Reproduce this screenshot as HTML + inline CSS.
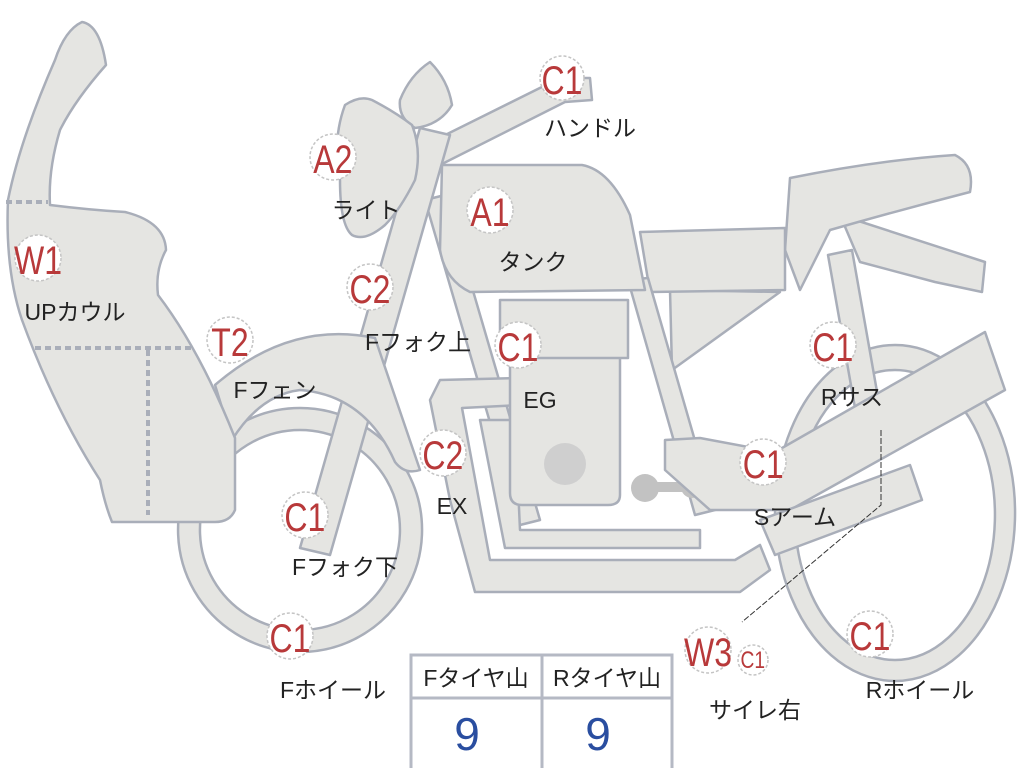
<!DOCTYPE html>
<html><head><meta charset="utf-8"><style>
body{margin:0;background:#fff;}
svg{display:block;}
.p{fill:#e5e5e2;stroke:#a9aeb9;stroke-width:2.5;stroke-linejoin:round;}
.c{fill:#fff;stroke:#c4c4c4;stroke-width:1.5;stroke-dasharray:3 2;}
.r{fill:#b8393a;font-family:"Liberation Sans",sans-serif;font-size:40px;text-anchor:middle;}
.k{fill:#222;font-family:"Liberation Sans","Noto Sans CJK JP",sans-serif;font-size:23px;text-anchor:middle;}
</style></head><body>
<svg width="1024" height="768" viewBox="0 0 1024 768">
<path class="p" fill-rule="evenodd" d="M300,408a122,122 0 1,0 0.1,0Z M300,430a100,100 0 1,1 -0.1,0Z"/>
<path class="p" fill-rule="evenodd" d="M895,345a120,168 0 1,0 0.1,0Z M895,370a100,145 0 1,1 -0.1,0Z"/>
<path class="p" d="M840,215 L985,262 L982,292 L935,282 L860,262Z"/>
<path class="p" d="M790,178 Q880,160 955,155 Q975,165 970,192 Q900,210 830,230 L800,290 L785,250Z"/>
<path class="p" d="M670,290 L780,292 L672,370Z"/>
<path class="p" d="M640,232 L785,228 L785,290 L650,292Z"/>
<path class="p" d="M828,255 L852,250 L882,420 L858,425Z"/>
<path class="p" d="M425,200 L445,195 L540,520 L520,525Z"/>
<path class="p" d="M628,280 L648,278 L715,510 L695,515Z"/>
<path class="p" d="M440,380 L520,378 L520,405 L462,408 L490,560 L735,560 L760,545 L770,570 L740,592 L475,592 L450,500 L430,400Z"/>
<path class="p" d="M480,420 L515,420 L520,530 L700,530 L700,548 L505,548Z"/>
<path class="p" d="M510,355 L620,355 L620,495 Q620,505 608,505 L522,505 Q510,505 510,493Z"/>
<rect class="p" x="500" y="300" width="128" height="58"/>
<circle cx="565" cy="464" r="21" fill="#cfcfcf"/>
<path d="M640,487 L690,487" stroke="#c2c2c2" stroke-width="10" stroke-linecap="round"/>
<circle cx="645" cy="488" r="14" fill="#c2c2c2"/><circle cx="692" cy="487" r="11" fill="#c2c2c2"/>
<path class="p" d="M665,440 L700,438 L775,452 L985,332 L1005,390 L790,510 L710,510 L665,470Z"/>
<path class="p" d="M760,520 L910,465 L922,500 L775,555Z"/>
<path class="p" d="M442,165 L582,165 Q610,170 630,215 L645,290 L470,292 Q445,280 440,250Z"/>
<path class="p" d="M415,150 L560,78 L590,78 L592,100 L565,102 L440,165Z"/>
<path class="p" d="M400,100 Q410,75 430,62 Q448,80 452,105 Q440,125 415,128 Q398,118 400,100Z"/>
<path class="p" d="M420,128 L450,135 L330,555 L300,548Z"/>
<path class="p" d="M345,105 Q360,95 372,100 Q395,112 412,125 Q422,150 415,180 Q400,210 385,225 Q365,242 352,235 Q340,225 340,180 Q332,140 345,105Z"/>
<path class="p" d="M215,385 Q290,320 375,338 L420,470 Q405,475 395,462 Q365,395 300,390 Q260,395 232,440Z"/>
<path class="p" d="M82,22 Q100,25 106,65 Q75,100 60,130 Q48,170 50,205 Q90,210 125,212 Q165,222 166,250 Q155,270 158,295 Q200,350 235,438 L235,510 Q230,522 215,522 L112,522 Q105,505 100,480 Q55,410 22,320 Q5,270 8,200 Q20,140 55,60 Q65,30 82,22Z"/>
<g stroke="#a9aeb9" stroke-width="4" stroke-dasharray="6 4" fill="none">
<path d="M6,202 L48,202"/><path d="M35,348 L192,348"/><path d="M148,350 L148,515"/>
</g>
<path d="M881,430 L881,505 L742,622" stroke="#333" stroke-width="1" fill="none" stroke-dasharray="6 2"/>
<g>
<circle class="c" cx="562" cy="78" r="22"/><circle class="c" cx="333" cy="157" r="23"/>
<circle class="c" cx="490" cy="210" r="23"/><circle class="c" cx="38" cy="258" r="23"/>
<circle class="c" cx="370" cy="287" r="23"/><circle class="c" cx="230" cy="340" r="23"/>
<circle class="c" cx="518" cy="345" r="23"/><circle class="c" cx="833" cy="345" r="23"/>
<circle class="c" cx="443" cy="453" r="23"/><circle class="c" cx="763" cy="462" r="23"/>
<circle class="c" cx="305" cy="515" r="23"/><circle class="c" cx="290" cy="636" r="23"/>
<circle class="c" cx="708" cy="650" r="23"/><circle class="c" cx="753" cy="660" r="15"/>
<circle class="c" cx="870" cy="634" r="23"/>
</g>
<g class="r" transform="scale(0.8,1)">
<text x="702.5" y="94">C1</text><text x="416" y="173">A2</text><text x="612.5" y="226">A1</text>
<text x="47.5" y="274">W1</text><text x="462.5" y="303">C2</text><text x="287.5" y="356">T2</text>
<text x="647.5" y="361">C1</text><text x="1041" y="361">C1</text><text x="553.5" y="469">C2</text>
<text x="954" y="478">C1</text><text x="381" y="531">C1</text><text x="362.5" y="652">C1</text>
<text x="885" y="666">W3</text><text x="1087.5" y="650">C1</text>
<text x="941" y="668" style="font-size:24px">C1</text>
</g>
<g class="k">
<text x="590" y="136">ハンドル</text><text x="366" y="218">ライト</text><text x="533" y="270">タンク</text>
<text x="75" y="320">UPカウル</text><text x="418" y="350">Fフォク上</text><text x="275" y="398">Fフェン</text>
<text x="540" y="408">EG</text><text x="852" y="405">Rサス</text><text x="452" y="514">EX</text>
<text x="795" y="525">Sアーム</text><text x="345" y="575">Fフォク下</text><text x="333" y="698">Fホイール</text>
<text x="755" y="718">サイレ右</text><text x="920" y="698">Rホイール</text>
</g>
<rect x="411" y="655" width="261" height="120" fill="#fff" stroke="#b5b9c4" stroke-width="3"/>
<path d="M411,698 L672,698 M542,655 L542,768" stroke="#b5b9c4" stroke-width="3"/>
<g class="k"><text x="476" y="686">Fタイヤ山</text><text x="607" y="686">Rタイヤ山</text></g>
<g fill="#2a4ea0" font-family="Liberation Sans,sans-serif" font-size="46" text-anchor="middle">
<text x="467" y="750">9</text><text x="598" y="750">9</text></g>
</svg>
</body></html>
